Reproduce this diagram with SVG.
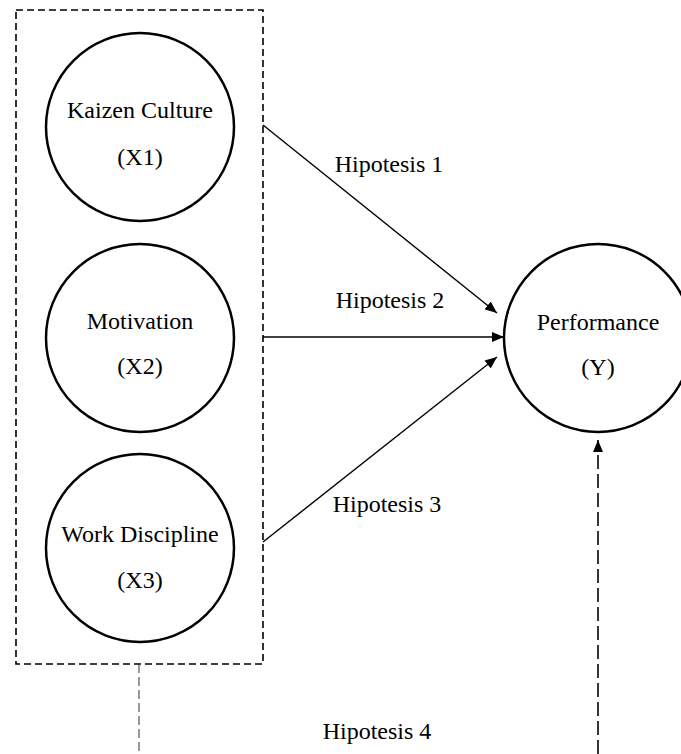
<svg xmlns="http://www.w3.org/2000/svg" width="681" height="754" viewBox="0 0 681 754">
<defs>
<style>
.node{fill:#fff;stroke:#000;stroke-width:2.5}
.t{font-family:"Liberation Serif","Times New Roman",serif;font-size:24px;fill:#000;text-anchor:middle}
.ln{stroke:#000;stroke-width:1.4;fill:none}
.box{fill:none;stroke:#000;stroke-width:1.6;stroke-dasharray:7 4}
.thin{stroke:#333;stroke-width:1;stroke-dasharray:9 4;fill:none}
.thick{stroke:#222;stroke-width:1.8;stroke-dasharray:14 5;fill:none}
</style>
<marker id="ah" markerWidth="12" markerHeight="10" refX="12" refY="5" orient="auto" markerUnits="userSpaceOnUse">
<path d="M0,0 L12,5 L0,10 Z" fill="#000"/>
</marker>
</defs>
<rect width="681" height="754" fill="#fff"/>
<rect id="group-box" class="box" x="16" y="10" width="247" height="654"/>
<g id="connectors">
<line class="ln" x1="263" y1="125" x2="497" y2="313" marker-end="url(#ah)"/>
<line class="ln" x1="263" y1="337" x2="504" y2="337" marker-end="url(#ah)"/>
<line class="ln" x1="263" y1="542" x2="497" y2="357" marker-end="url(#ah)"/>
<line class="thin" x1="139" y1="664" x2="139" y2="754"/>
<line class="thick" x1="598" y1="754" x2="598" y2="440" marker-end="url(#ah)"/>
<text class="t" x="389" y="172">Hipotesis 1</text>
<text class="t" x="390" y="308">Hipotesis 2</text>
<text class="t" x="387" y="512">Hipotesis 3</text>
<text class="t" x="377" y="739">Hipotesis 4</text>
</g>
<g id="x1">
<circle class="node" cx="140" cy="127" r="94"/>
<text class="t" x="140" y="118">Kaizen Culture</text>
<text class="t" x="140" y="165">(X1)</text>
</g>
<g id="x2">
<circle class="node" cx="140" cy="338" r="94"/>
<text class="t" x="140" y="329">Motivation</text>
<text class="t" x="140" y="374">(X2)</text>
</g>
<g id="x3">
<circle class="node" cx="140" cy="548" r="94"/>
<text class="t" x="140" y="542">Work Discipline</text>
<text class="t" x="140" y="588">(X3)</text>
</g>
<g id="y">
<circle class="node" cx="598" cy="338" r="94"/>
<text class="t" x="598" y="330">Performance</text>
<text class="t" x="598" y="375">(Y)</text>
</g>
</svg>
